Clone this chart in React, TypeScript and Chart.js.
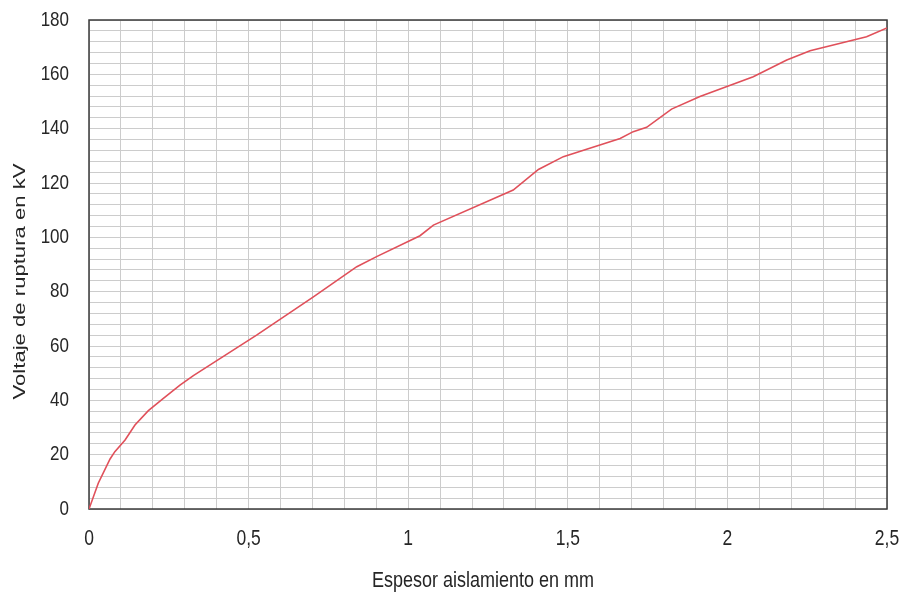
import React, { useEffect, useRef } from "react";
import { Chart, registerables } from "chart.js";

Chart.register(...registerables);

const thickness = [0, 0.029, 0.066, 0.081, 0.113, 0.144, 0.186, 0.233, 0.285, 0.327, 0.525, 0.703, 0.839, 0.901, 1.037, 1.079, 1.329, 1.408, 1.486, 1.559, 1.664, 1.705, 1.747, 1.825, 1.914, 2.081, 2.186, 2.259, 2.436, 2.5];
const voltage = [0, 9.5, 18.4, 21.1, 25.4, 30.9, 36.2, 40.7, 45.6, 49.1, 64.0, 78.1, 89.2, 92.9, 100.6, 104.5, 117.4, 125.0, 129.7, 132.4, 136.4, 138.9, 140.5, 147.2, 151.8, 159.1, 165.3, 168.7, 173.8, 177.1];

const xLabelTicks = [0, 0.5, 1, 1.5, 2, 2.5];
const yLabelTicks = [0, 20, 40, 60, 80, 100, 120, 140, 160, 180];

const xTitle = "Espesor aislamiento en mm";
const yTitle = "Voltaje de ruptura en kV";

const FONT = "'Liberation Sans', Arial, sans-serif";
const TEXT = "#262626";
const STRETCH = 1.22;

const frame = {
  id: "frame",
  beforeDatasetsDraw(chart: any) {
    const { ctx, chartArea } = chart;
    ctx.save();
    ctx.strokeStyle = "#3a3a3a";
    ctx.lineWidth = 1.5;
    ctx.strokeRect(chartArea.left, chartArea.top, chartArea.right - chartArea.left, chartArea.bottom - chartArea.top);
    ctx.restore();
  },
};

const stretchedText = (ctx: any, text: string, x: number, y: number, align: string, size: number) => {
  ctx.save();
  ctx.translate(x, y);
  ctx.scale(1, STRETCH);
  ctx.font = `${size}px ${FONT}`;
  ctx.textAlign = align;
  ctx.textBaseline = "middle";
  ctx.fillText(text, 0, 0);
  ctx.restore();
};

const labels = {
  id: "labels",
  afterDraw(chart: any) {
    const { ctx, chartArea, scales } = chart;
    ctx.save();
    ctx.fillStyle = TEXT;
    xLabelTicks.forEach((v) => {
      stretchedText(ctx, String(v).replace(".", ","), scales.x.getPixelForValue(v), chartArea.bottom + 30, "center", 17.5);
    });
    yLabelTicks.forEach((v) => {
      stretchedText(ctx, String(v), chartArea.left - 20, scales.y.getPixelForValue(v), "right", 17);
    });
    stretchedText(ctx, xTitle, (chartArea.left + chartArea.right) / 2 - 5, chart.height - 13, "center", 18);
    // y title, stretched along the text
    ctx.translate(20, (chartArea.top + chartArea.bottom) / 2 + 17);
    ctx.rotate(-Math.PI / 2);
    ctx.scale(1.3, 1);
    ctx.font = `17px ${FONT}`;
    ctx.textAlign = "center";
    ctx.textBaseline = "middle";
    ctx.fillText(yTitle, 0, 0);
    ctx.restore();
  },
};

export default function App() {
  const ref = useRef<HTMLCanvasElement>(null);
  useEffect(() => {
    const chart = new Chart(ref.current!, {
      type: "line",
      data: {
        datasets: [
          {
            data: thickness.map((x, i) => ({ x, y: voltage[i] })),
            borderColor: "#e0505a",
            borderWidth: 1.6,
            pointRadius: 0,
            tension: 0,
            fill: false,
          },
        ],
      },
      plugins: [frame, labels],
      options: {
        animation: false,
        responsive: false,
        maintainAspectRatio: false,
        layout: { padding: { top: 20, right: 14, bottom: 0, left: 0 } },
        plugins: { legend: { display: false }, tooltip: { enabled: false } },
        scales: {
          x: {
            type: "linear",
            min: 0,
            max: 2.5,
            afterFit: (s: any) => { s.height = 85; s.paddingLeft = 0; s.paddingRight = 0; },
            ticks: { stepSize: 0.1, autoSkip: false, maxRotation: 0, display: false },
            grid: { color: "#cccccc", lineWidth: 1, drawTicks: false },
            border: { display: false },
            title: { display: false },
          },
          y: {
            type: "linear",
            min: 0,
            max: 180,
            afterFit: (s: any) => { s.width = 89; s.paddingTop = 0; s.paddingBottom = 0; },
            ticks: { stepSize: 4, autoSkip: false, display: false },
            grid: { color: "#cccccc", lineWidth: 1, drawTicks: false },
            border: { display: false },
            title: { display: false },
          },
        },
      },
    } as any);
    return () => chart.destroy();
  }, []);
  return (
    <div style={{ position: "absolute", left: 0, top: 0, width: 901, height: 594, background: "#fff" }}>
      <canvas ref={ref} width={901} height={594} style={{ width: 901, height: 594 }} />
    </div>
  );
}
